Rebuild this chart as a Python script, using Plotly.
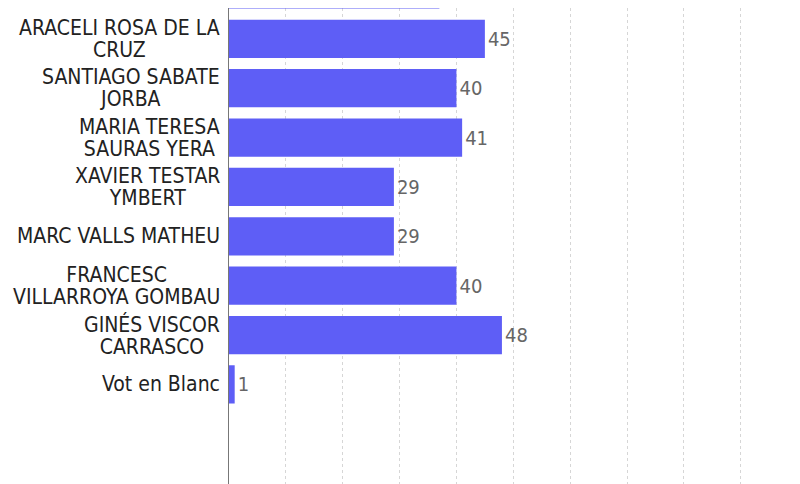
import plotly.graph_objects as go

# Data (top row is mostly scrolled out of view in the reference)
candidates = [
    "(ocult)",
    "ARACELI ROSA DE LA<br>CRUZ",
    "SANTIAGO SABATE<br>JORBA",
    "MARIA TERESA<br>SAURAS YERA",
    "XAVIER TESTAR<br>YMBERT",
    "MARC VALLS MATHEU",
    "FRANCESC<br>VILLARROYA GOMBAU",
    "GINÉS VISCOR<br>CARRASCO",
    "Vot en Blanc",
]
votes = [37, 45, 40, 41, 29, 29, 40, 48, 1]
# value labels (the top row's label lies outside the visible area)
value_labels = ["", "45", "40", "41", "29", "29", "40", "48", "1"]

FONT = "DejaVu Sans Condensed, DejaVu Sans, sans-serif"

fig = go.Figure(
    go.Bar(
        x=votes,
        y=candidates,
        orientation="h",
        marker=dict(color="#5e5ef6", line=dict(width=0)),
        text=value_labels,
        textposition="outside",
        textfont=dict(family=FONT, size=20, color="#666666"),
        cliponaxis=True,
        hoverinfo="skip",
    )
)

for name in candidates[1:]:
    fig.add_annotation(
        xref="paper", yref="y", x=0, y=name,
        xanchor="right", yanchor="middle", align="center",
        xshift=-7,
        text='<span style="font-size:21px">' + name.replace("<br>", '</span><br><span style="font-size:21px">') + "</span>",
        showarrow=False,
        font=dict(family=FONT, size=16.7, color="#222222"),
    )

# page body adds an 8px offset, so the figure is sized 8px smaller
fig.update_layout(
    width=792, height=476,
    margin=dict(l=221, r=0, t=0, b=0),
    paper_bgcolor="white",
    plot_bgcolor="white",
    bargap=0.225,
    showlegend=False,
)
fig.update_xaxes(
    range=[0, 100.42],
    dtick=10, tick0=0,
    showgrid=True, gridcolor="#d6d6d6", griddash="3px,3px", gridwidth=1,
    showticklabels=False, zeroline=False, showline=False,
)
fig.update_yaxes(
    type="category",
    categoryorder="array", categoryarray=candidates,
    range=[10.018, 0.375],
    showticklabels=False, showgrid=False, zeroline=False,
    showline=True, linecolor="#777777", linewidth=1,
    ticks="",
)

fig.write_html("out.html")
